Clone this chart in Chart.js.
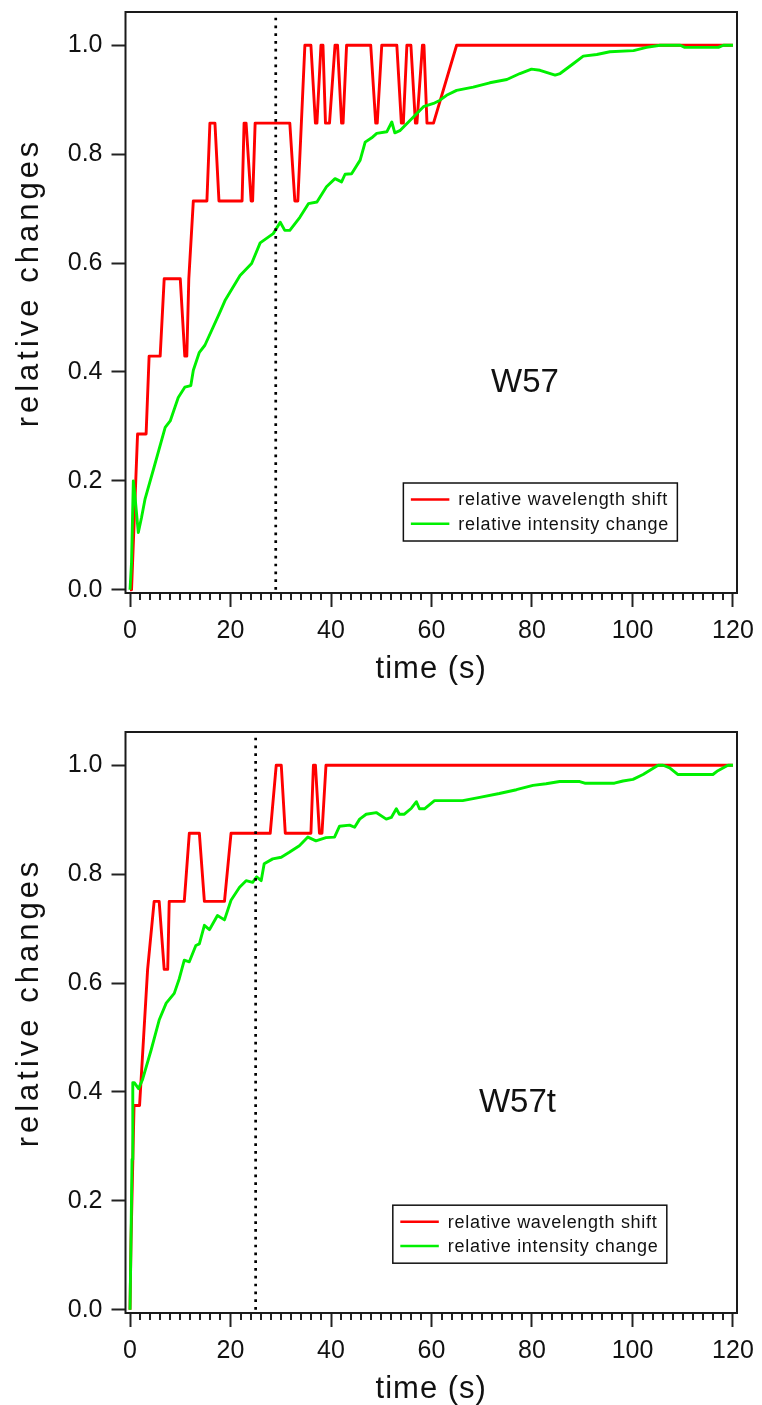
<!DOCTYPE html>
<html><head><meta charset="utf-8">
<script src="https://cdn.jsdelivr.net/npm/chart.js@4.4.1/dist/chart.umd.min.js"></script>
<style>
html,body{margin:0;padding:0;background:#fff;overflow:hidden;width:762px;height:1405px;}
.wrap{position:absolute;left:0;width:762px;height:700px;}
</style></head><body>
<div class="wrap" style="top:0"><canvas id="c1" width="762" height="700"></canvas></div>
<div class="wrap" style="top:720px"><canvas id="c2" width="762" height="700"></canvas></div>
<script>
// ---------- data ----------
const xTicks = [0, 20, 40, 60, 80, 100, 120];
const yTicks = [0, 0.2, 0.4, 0.6, 0.8, 1.0];
const seriesLabels = ['relative wavelength shift', 'relative intensity change'];
const panelNames = ['W57', 'W57t'];
const markerTimes = [29, 25];

// W57 - relative wavelength shift
const w57ShiftT = [0, 0.3, 0.9, 1.5, 3.2, 3.8, 6.0, 6.8, 10.0, 10.9, 11.3, 11.7, 12.6, 15.3, 15.9, 16.9, 17.7, 22.3, 22.7, 23.1, 24.1, 24.4, 24.9, 31.8, 32.8, 33.4, 34.8, 36.0, 36.9, 37.2, 38.0, 38.4, 38.9, 39.7, 40.8, 41.3, 42.1, 42.4, 43.1, 47.9, 48.9, 49.2, 50.1, 53.1, 54.0, 54.4, 55.1, 55.9, 56.8, 57.1, 58.2, 58.5, 59.1, 60.4, 65.0, 120];
const w57ShiftV = [0, 0, 0.143, 0.286, 0.286, 0.429, 0.429, 0.571, 0.571, 0.429, 0.429, 0.571, 0.714, 0.714, 0.857, 0.857, 0.714, 0.714, 0.857, 0.857, 0.714, 0.714, 0.857, 0.857, 0.714, 0.714, 1, 1, 0.857, 0.857, 1, 1, 0.857, 0.857, 1, 1, 0.857, 0.857, 1, 1, 0.857, 0.857, 1, 1, 0.857, 0.857, 1, 1, 0.857, 0.857, 1, 1, 0.857, 0.857, 1, 1];

// W57 - relative intensity change
const w57IntT = [0, 0.3, 0.66, 1.0, 1.65, 2.3, 3.0, 4.6, 7.0, 8.0, 9.6, 10.9, 12.1, 12.6, 13.8, 14.9, 17.9, 18.9, 21.9, 24.2, 25.9, 28.5, 29.9, 30.8, 31.8, 33.8, 35.5, 37.2, 39.1, 40.8, 42.1, 42.8, 44.1, 45.8, 46.8, 48.1, 49.1, 51.1, 52.1, 52.7, 53.7, 56.4, 58.4, 60.4, 61.7, 63.0, 65.0, 68.3, 71.6, 75.0, 77.6, 79.9, 81.6, 84.6, 85.6, 88.2, 90.2, 92.9, 95.5, 100.2, 102.8, 105.5, 109.5, 110.4, 117.1, 118.1, 120];
const w57IntV = [0, 0.05, 0.2, 0.17, 0.105, 0.133, 0.167, 0.219, 0.298, 0.31, 0.353, 0.372, 0.375, 0.403, 0.436, 0.449, 0.51, 0.531, 0.577, 0.599, 0.637, 0.654, 0.675, 0.66, 0.66, 0.684, 0.709, 0.712, 0.74, 0.755, 0.749, 0.763, 0.764, 0.789, 0.822, 0.83, 0.838, 0.841, 0.859, 0.839, 0.843, 0.868, 0.887, 0.893, 0.899, 0.908, 0.917, 0.923, 0.931, 0.937, 0.948, 0.956, 0.954, 0.945, 0.948, 0.966, 0.98, 0.983, 0.988, 0.99, 0.996, 1.0, 1.0, 0.996, 0.996, 1.0, 1.0];

// W57t - relative wavelength shift
const w57tShiftT = [0, 0.2, 0.5, 0.8, 1.9, 2.7, 3.5, 4.8, 5.8, 6.8, 7.5, 7.8, 10.8, 11.8, 13.8, 14.8, 18.8, 20.1, 27.9, 29.1, 30.1, 30.9, 36.0, 36.5, 36.9, 37.7, 38.2, 39.0, 120];
const w57tShiftV = [0, 0.125, 0.25, 0.375, 0.375, 0.5, 0.625, 0.75, 0.75, 0.625, 0.625, 0.75, 0.75, 0.875, 0.875, 0.75, 0.75, 0.875, 0.875, 1, 1, 0.875, 0.875, 1, 1, 0.875, 0.875, 1, 1];

// W57t - relative intensity change
const w57tIntT = [0, 0.2, 0.4, 0.55, 0.85, 1.7, 2.5, 4.2, 5.8, 7.2, 8.8, 9.8, 10.8, 11.8, 13.1, 13.8, 14.8, 15.8, 17.4, 18.8, 20.1, 21.8, 23.1, 24.4, 25.2, 26.1, 26.7, 28.4, 30.1, 31.7, 33.7, 35.4, 37.0, 39.0, 40.7, 41.7, 43.7, 44.7, 45.7, 47.0, 49.0, 51.0, 52.0, 53.0, 53.6, 54.6, 56.0, 57.0, 57.6, 58.6, 60.6, 66.2, 69.6, 73.5, 76.9, 80.2, 82.8, 85.5, 89.5, 90.5, 96.4, 98.1, 100.1, 102.1, 105.1, 106.1, 107.4, 109.0, 116.0, 117.0, 119.0, 120];
const w57tIntV = [0, 0.136, 0.276, 0.417, 0.417, 0.406, 0.423, 0.477, 0.532, 0.563, 0.581, 0.608, 0.642, 0.639, 0.669, 0.672, 0.706, 0.698, 0.724, 0.716, 0.752, 0.776, 0.788, 0.785, 0.795, 0.788, 0.819, 0.828, 0.831, 0.84, 0.852, 0.868, 0.861, 0.867, 0.868, 0.888, 0.89, 0.886, 0.901, 0.91, 0.913, 0.901, 0.904, 0.92, 0.91, 0.91, 0.921, 0.933, 0.92, 0.92, 0.935, 0.935, 0.941, 0.948, 0.955, 0.963, 0.966, 0.97, 0.97, 0.967, 0.967, 0.971, 0.974, 0.983, 1.0, 1.0, 0.995, 0.983, 0.983, 0.99, 1.0, 1.0];

// ---------- helpers ----------
const FONT = "'Liberation Sans', Arial, Helvetica, sans-serif";
const INK = '#111';
const zip = (t, v) => t.map((x, i) => ({x: x, y: v[i]}));

// wraps a scale's own title drawing with letter spacing and an offset along the axis
function titleStyle(s, spacing, dy) {
  if (s._styled) return;
  const orig = s.drawTitle.bind(s);
  s.drawTitle = function () {
    const c = this.ctx;
    c.save();
    c.translate(0, dy);
    c.letterSpacing = spacing;
    orig();
    c.restore();
  };
  s._styled = true;
}

const extras = {
  id: 'extras',
  afterDraw(chart, args, o) {
    const {ctx, chartArea: a, scales: {x, y}} = chart;
    ctx.save();
    // minor x ticks
    ctx.strokeStyle = '#222';
    ctx.lineWidth = 2;
    for (let v = 0; v <= 120; v += 2) {
      if (v % 20 === 0) continue;
      const px = Math.round(x.getPixelForValue(v));
      ctx.beginPath();
      ctx.moveTo(px, a.bottom);
      ctx.lineTo(px, a.bottom + 7);
      ctx.stroke();
    }
    // frame
    ctx.lineWidth = 2;
    ctx.strokeStyle = '#1a1a1a';
    ctx.strokeRect(a.left, a.top, a.right - a.left, a.bottom - a.top);
    // panel label
    ctx.fillStyle = INK;
    ctx.font = '33px ' + FONT;
    ctx.textAlign = 'center';
    ctx.textBaseline = 'middle';
    ctx.fillText(o.name, x.getPixelForValue(o.nameAt[0]), y.getPixelForValue(o.nameAt[1]));
    // legend box
    const lx = x.getPixelForValue(o.legendAt[0]);
    const ly = y.getPixelForValue(o.legendAt[1]);
    const W = 274, H = 58;
    ctx.fillStyle = '#fff';
    ctx.fillRect(lx, ly, W, H);
    ctx.lineWidth = 1.5;
    ctx.strokeStyle = '#111';
    ctx.strokeRect(lx, ly, W, H);
    const items = chart.data.datasets.filter(d => d.inLegend).sort((p, q) => p.legendIndex - q.legendIndex);
    ctx.font = '18px ' + FONT;
    ctx.letterSpacing = '0.7px';
    ctx.textAlign = 'left';
    ctx.textBaseline = 'middle';
    items.forEach((d, i) => {
      const yy = ly + 16.5 + i * 24.3;
      ctx.strokeStyle = d.borderColor;
      ctx.lineWidth = 2.5;
      ctx.beginPath();
      ctx.moveTo(lx + 7.5, yy);
      ctx.lineTo(lx + 46, yy);
      ctx.stroke();
      ctx.fillStyle = INK;
      ctx.fillText(d.label, lx + 55, yy + 1);
    });
    ctx.restore();
  }
};

function makeChart(id, shiftT, shiftV, intT, intV, marker, name, nameAt, legendAt) {
  return new Chart(document.getElementById(id), {
    type: 'line',
    data: {
      datasets: [
        {label: 'marker', data: [{x: marker, y: 0}, {x: marker, y: 1.052}], borderColor: '#000', borderWidth: 2.7,
         borderDash: [2.7, 5.1], borderCapStyle: 'butt', pointRadius: 0, order: 0, inLegend: false},
        {label: seriesLabels[1], data: zip(intT, intV), borderColor: '#00f000', borderWidth: 2.9,
         pointRadius: 0, tension: 0, borderJoinStyle: 'round', order: 1, inLegend: true, legendIndex: 1},
        {label: seriesLabels[0], data: zip(shiftT, shiftV), borderColor: '#ff0000', borderWidth: 2.9,
         pointRadius: 0, tension: 0, borderJoinStyle: 'round', order: 2, inLegend: true, legendIndex: 0}
      ]
    },
    options: {
      responsive: false,
      animation: false,
      devicePixelRatio: 1,
      layout: {padding: {left: 0, right: 25, top: 12, bottom: 0}},
      plugins: {
        legend: {display: false},
        tooltip: {enabled: false},
        extras: {name: name, nameAt: nameAt, legendAt: legendAt}
      },
      scales: {
        x: {
          type: 'linear', position: 'bottom', min: -0.9, max: 120.8,
          afterBuildTicks: s => { s.ticks = xTicks.map(v => ({value: v})); },
          afterFit: s => { s.height = 107; s.paddingLeft = 0; s.paddingRight = 0; titleStyle(s, '1px', 0); },
          grid: {drawOnChartArea: false, drawTicks: true, tickLength: 14, tickWidth: 2, tickColor: '#222'},
          border: {display: false},
          ticks: {padding: 9, color: INK, autoSkip: false, maxRotation: 0, font: {family: FONT, size: 25},
                  callback: v => String(v)},
          title: {display: true, text: 'time (s)', color: INK, font: {family: FONT, size: 31},
                  padding: {top: 0, bottom: 12}}
        },
        y: {
          type: 'linear', min: -0.006, max: 1.061,
          afterBuildTicks: s => { s.ticks = yTicks.map(v => ({value: v})); },
          afterFit: s => { s.width = 125.5; s.paddingTop = 0; s.paddingBottom = 0; titleStyle(s, '4px', -20); },
          grid: {drawOnChartArea: false, drawTicks: true, tickLength: 14, tickWidth: 2, tickColor: '#222'},
          border: {display: false},
          ticks: {padding: 9, color: INK, font: {family: FONT, size: 25}, callback: v => v.toFixed(1)},
          title: {display: true, text: 'relative changes', color: INK, font: {family: FONT, size: 31},
                  padding: {top: 11, bottom: 0}}
        }
      }
    },
    plugins: [extras]
  });
}

makeChart('c1', w57ShiftT, w57ShiftV, w57IntT, w57IntV, markerTimes[0], panelNames[0], [78.6, 0.379], [54.4, 0.196]);
makeChart('c2', w57tShiftT, w57tShiftV, w57tIntT, w57tIntV, markerTimes[1], panelNames[1], [77.1, 0.379], [52.3, 0.192]);
</script>
</body></html>
